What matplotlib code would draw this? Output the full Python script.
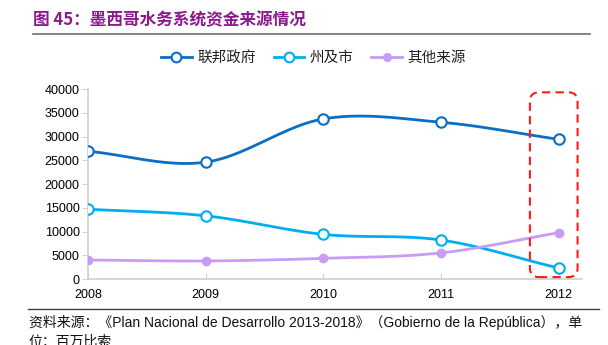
import numpy as np
import matplotlib
matplotlib.use('Agg')
import matplotlib.pyplot as plt
from matplotlib.patches import FancyBboxPatch
from matplotlib.transforms import IdentityTransform
from matplotlib.lines import Line2D

plt.rcParams['font.family'] = ['Liberation Sans', 'Noto Sans CJK SC', 'DejaVu Sans']

years = [2008, 2009, 2010, 2011, 2012]
federal = [26900, 24600, 33700, 33000, 29400]
state = [14700, 13300, 9400, 8200, 2300]
other = [4000, 3800, 4350, 5500, 9750]

series_names = ['联邦政府', '州及市', '其他来源']
colors = ['#0A6EC4', '#00AEEF', '#C79BF7']

title = '图 45：墨西哥水务系统资金来源情况'
source = '资料来源：《Plan Nacional de Desarrollo 2013-2018》（Gobierno de la República），单'
source2 = '位：百万比索'


def smooth(x, y, n=30):
    # catmull-rom curve through the points, only used for drawing the line
    x = np.asarray(x, float)
    y = np.asarray(y, float)
    px = np.concatenate([[2 * x[0] - x[1]], x, [2 * x[-1] - x[-2]]])
    py = np.concatenate([[2 * y[0] - y[1]], y, [2 * y[-1] - y[-2]]])
    xs, ys = [], []
    t = np.linspace(0, 1, n)
    for i in range(1, len(px) - 2):
        for p, out in ((px, xs), (py, ys)):
            p0, p1, p2, p3 = p[i - 1], p[i], p[i + 1], p[i + 2]
            out.extend(0.5 * (2 * p1 + (-p0 + p2) * t
                              + (2 * p0 - 5 * p1 + 4 * p2 - p3) * t ** 2
                              + (-p0 + 3 * p1 - 3 * p2 + p3) * t ** 3))
    return np.array(xs), np.array(ys)


fig = plt.figure(figsize=(6.08, 3.45), dpi=100)
ax = fig.add_axes([0.1447, 0.1913, 0.813, 0.5507])

for vals, col, name in zip([federal, state, other], colors, series_names):
    sx, sy = smooth(years, vals)
    ax.plot(sx, sy, color=col, lw=2.0, zorder=2, solid_capstyle='round')
    if name == '其他来源':
        ax.plot(years, vals, 'o', ms=6, color=col, zorder=3)
    else:
        ax.plot(years, vals, 'o', ms=7.5, mfc='white', mec=col, mew=1.5, zorder=3)

ax.set_xlim(2008, 2012.2)
ax.set_ylim(0, 40000)
ax.set_yticks(range(0, 40001, 5000))
ax.set_xticks(years)
ax.set_xticklabels([str(y) for y in years])
ax.tick_params(axis='y', labelsize=9, length=4, color='#d0d0d0', pad=2)
ax.tick_params(axis='x', labelsize=9, length=4, direction='in', color='#d0d0d0', pad=7)
for s in ['top', 'right']:
    ax.spines[s].set_visible(False)
for s in ['left', 'bottom']:
    ax.spines[s].set_color('#d0d0d0')
    ax.spines[s].set_linewidth(1.2)

# highlight box around the last year
fig.canvas.draw()
x0, y0 = ax.transData.transform((2011.755, 400))
x1, y1 = ax.transData.transform((2012.16, 39300))
box = FancyBboxPatch((x0, y0), x1 - x0, y1 - y0,
                     boxstyle='round,pad=0,rounding_size=9',
                     transform=IdentityTransform(), fill=False,
                     ec='#FF1A1A', lw=1.5, ls=(0, (4, 2.5)), zorder=5)
fig.patches.append(box)

handles = [Line2D([], [], color=colors[0], lw=2.0, marker='o', ms=7, mfc='white', mec=colors[0], mew=1.5),
           Line2D([], [], color=colors[1], lw=2.0, marker='o', ms=7, mfc='white', mec=colors[1], mew=1.5),
           Line2D([], [], color=colors[2], lw=2.0, marker='o', ms=5.5)]
leg = fig.legend(handles, series_names, loc='center', bbox_to_anchor=(0.516, 0.832),
                 ncol=3, frameon=False, handlelength=2.1, columnspacing=1.2,
                 handletextpad=0.4, prop={'family': 'Noto Sans CJK SC', 'size': 10.5})
for t in leg.get_texts():
    t.set_color('#222222')

fig.text(0.054, 0.942, title, color='#8B1A8B', fontsize=12, fontweight='bold',
         va='center', family=['Noto Sans CJK SC'])
fig.add_artist(Line2D([0.054, 0.97], [0.901, 0.901], color='#707070', lw=1.2))
fig.add_artist(Line2D([0.046, 0.985], [0.104, 0.104], color='#404040', lw=1.0))
fig.text(0.047, 0.066, source, fontsize=10, va='center', color='#111111',
         family=['Liberation Sans', 'Noto Sans CJK SC'])
fig.text(0.047, 0.008, source2, fontsize=10, va='center', color='#111111',
         family=['Noto Sans CJK SC'])

fig.savefig('out.png', dpi=100)
